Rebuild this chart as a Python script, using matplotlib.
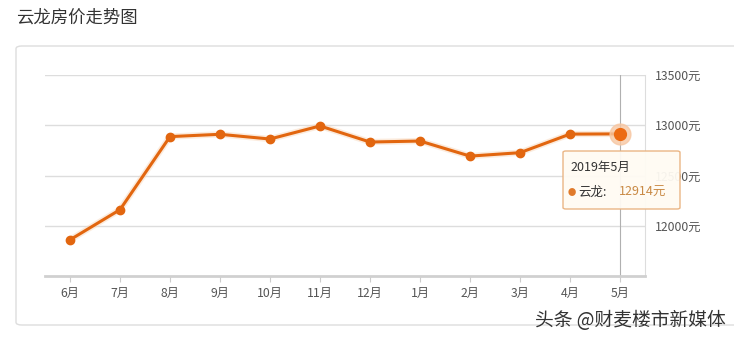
import matplotlib.pyplot as plt
from matplotlib.patches import FancyBboxPatch

plt.rcParams['font.family'] = ['Noto Sans CJK SC', 'DejaVu Sans']

# Data
months = ['6月', '7月', '8月', '9月', '10月', '11月', '12月', '1月', '2月', '3月', '4月', '5月']
prices = [11860, 12160, 12887, 12910, 12863, 12993, 12833, 12843, 12693, 12727, 12912, 12914]
yticks = [12000, 12500, 13000, 13500]
ytick_labels = ['12000元', '12500元', '13000元', '13500元']

line_color = '#e2660f'

fig = plt.figure(figsize=(7.34, 3.40), dpi=100)
W, H = 734, 340

# Title and outer card
fig.text(16 / W, 1 - 18 / H, '云龙房价走势图', fontsize=12.5, color='#333333', va='center', ha='left')
card = FancyBboxPatch((16 / W, 1 - 325 / H), (740 - 16) / W, (325 - 46) / H,
                      boxstyle='round,pad=0,rounding_size=0.008', transform=fig.transFigure,
                      facecolor='white', edgecolor='#dddddd', linewidth=1, zorder=0)
fig.patches.append(card)

ax = fig.add_axes([45 / W, 1 - 276 / H, 600 / W, 201 / H])
ax.set_zorder(2)
ax.set_facecolor('none')
x = list(range(len(months)))

ax.set_xlim(-0.5, len(months) - 0.5)
ax.set_ylim(11500, 13500)

for y in yticks:
    ax.axhline(y, color='#dddddd', linewidth=1, zorder=1)

# crosshair at last point
ax.axvline(x[-1], color='#b0b0b0', linewidth=0.8, zorder=1)

# glow + line
ax.plot(x, prices, color='#f8d8bc', linewidth=4.5, alpha=0.5, zorder=2, solid_capstyle='round')
ax.plot(x, prices, color=line_color, linewidth=2.2, marker='o', markersize=6,
        markerfacecolor=line_color, markeredgecolor=line_color, zorder=3)
ax.plot(x[-1], prices[-1], 'o', markersize=15, color='#f7c7a3', alpha=0.8, zorder=3)
ax.plot(x[-1], prices[-1], 'o', markersize=8.5, color='#ec6a12', zorder=4)

ax.spines['left'].set_visible(False)
ax.spines['top'].set_visible(False)
ax.spines['right'].set_color('#dddddd')
ax.spines['bottom'].set_color('#d0d0d0')
ax.spines['bottom'].set_linewidth(2)

ax.yaxis.tick_right()
ax.set_yticks(yticks)
ax.set_yticklabels(ytick_labels)
ax.tick_params(axis='y', length=0, pad=7, labelsize=8.8, labelcolor='#555555')
ax.set_xticks(x)
ax.set_xticklabels(months)
ax.tick_params(axis='x', length=4, color='#cccccc', pad=4, labelsize=8.8, labelcolor='#555555')

# tooltip
tip = FancyBboxPatch((563 / W, 1 - 209 / H), 117 / W, 58 / H,
                     boxstyle='round,pad=0,rounding_size=0.004', transform=fig.transFigure,
                     facecolor='#fffbf3', edgecolor='#e9b27f', linewidth=1, alpha=0.95, zorder=10)
fig.patches.append(tip)
fig.text(570 / W, 1 - 167 / H, '2019年5月', fontsize=9, color='#333333', va='center', zorder=11)
fig.text(568 / W, 1 - 193 / H, '●', fontsize=6, color='#e07a2a', va='center', zorder=11)
fig.text(578 / W, 1 - 192 / H, '云龙:', fontsize=9, color='#333333', va='center', zorder=11)
fig.text(619 / W, 1 - 192 / H, '12914元', fontsize=9, color='#c98a45', va='center', zorder=11)

# watermark
fig.text(726 / W, 1 - 321 / H, '头条 @财麦楼市新媒体', fontsize=13.5, color='#333333',
         ha='right', va='center', zorder=12)

fig.savefig('out.png', dpi=100)
